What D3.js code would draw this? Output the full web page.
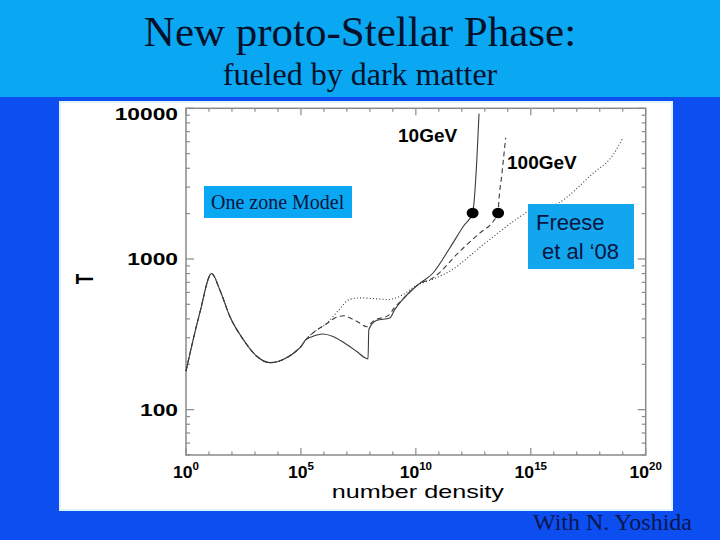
<!DOCTYPE html>
<html><head><meta charset="utf-8">
<script src="https://cdn.jsdelivr.net/npm/d3@7"></script>
<style>body{margin:0;background:#fff;} svg{display:block;}</style>
</head><body>
<svg id="c" width="720" height="540"></svg>
<script>
// ---------------- data ----------------
const titleText = "New proto-Stellar Phase:";
const subtitleText = "fueled by dark matter";
const creditText = "With N. Yoshida";

// shared part of all three tracks (number density, temperature)
const commonDensity = [1, 4, 13, 30, 81, 310, 1.2e3, 4.5e3, 2.4e4, 6.3e4, 1e5, 1.6e5];
const commonT       = [180, 440, 800, 620, 415, 292, 226, 205, 221, 245, 262, 290];

// 10 GeV (solid)
const solidDensity = [3e5, 5e5, 9e5, 2.5e6, 7e6, 2.6e7, 6.8e7, 8.3e7, 9.0e7, 1.9e8, 7.4e8, 1.2e9, 2.7e9, 1.26e10, 5.6e10, 3e11, 1.15e12, 2.95e12, 4.5e12, 5.6e12];
const solidT       = [305, 313, 318, 306, 280, 244, 219, 217, 340, 390, 406, 461, 540, 676, 807, 1182, 1644, 2018, 4550, 9200];

// shared by 100 GeV and no-DM tracks
const sharedDensity = [4e5, 1.3e6];
const sharedT       = [330, 372];

// 100 GeV (dashed)
const dashedDensity = [3e6, 7e6, 2e7, 4e7, 7.2e7, 1.4e8, 7.4e8, 1e9, 2.7e9, 1.26e10, 5.6e10, 8.1e11, 6e12, 2.3e13, 3.8e13, 4e13, 5.5e13, 8.1e13];
const dashedT       = [405, 420, 395, 372, 355, 387, 428, 461, 540, 676, 749, 1123, 1486, 1774, 2018, 2300, 3630, 6380];

// no dark matter (dotted)
const dottedDensity = [4e6, 1.35e7, 4e7, 1.6e8, 6.3e8, 2e9, 1.26e10, 5.6e10, 3e11, 8.5e12, 2.8e14, 7.6e14, 1.3e16, 5.1e17, 3.8e18, 1e19];
const dottedT       = [450, 540, 552, 545, 538, 565, 676, 735, 830, 1244, 1870, 2070, 2310, 3700, 4910, 6320];

// filled dots where dark matter takes over
const markerDensity = [2.95e12, 3.8e13];
const markerT       = [2018, 2018];

const xMajorTicks = [1, 1e5, 1e10, 1e15, 1e20];
const xTickExponents = ["0", "5", "10", "15", "20"];
const yMajorTicks = [100, 1000, 10000];
const yTickLabels = ["100", "1000", "10000"];

// ---------------- drawing ----------------
const svg = d3.select("#c");
const zip = (a, b) => a.map((v, i) => ({n: v, t: b[i]}));
const common = zip(commonDensity, commonT);
const shared = zip(sharedDensity, sharedT);
const series = [
  {pts: common.concat(zip(solidDensity, solidT)), dash: null},
  {pts: common.concat(shared, zip(dashedDensity, dashedT)), dash: "5,3.5"},
  {pts: common.concat(shared, zip(dottedDensity, dottedT)), dash: "1,2.2"}
];

// background bands
svg.append("rect").attr("x",0).attr("y",0).attr("width",720).attr("height",540).attr("fill","#0c4ef0");
svg.append("rect").attr("x",0).attr("y",0).attr("width",720).attr("height",97).attr("fill","#0aa8f2");
// white panel
svg.append("rect").attr("x",60).attr("y",102).attr("width",612).attr("height",408)
  .attr("fill","#ffffff").attr("stroke","#dff3fc").attr("stroke-width",2);

// titles
svg.append("text").attr("x",360).attr("y",46).attr("text-anchor","middle")
  .attr("font-family","'Liberation Serif', 'Times New Roman', serif").attr("font-size",43)
  .attr("fill","#05102a").text(titleText);
svg.append("text").attr("x",360).attr("y",85).attr("text-anchor","middle")
  .attr("font-family","'Liberation Serif', 'Times New Roman', serif").attr("font-size",32)
  .attr("fill","#05102a").text(subtitleText);
svg.append("text").attr("x",692).attr("y",530).attr("text-anchor","end")
  .attr("font-family","'Liberation Serif', 'Times New Roman', serif").attr("font-size",24)
  .attr("fill","#0a1650").text(creditText);

// scales
const L = 186, R = 645.7, T0 = 108.3, B = 455;
const x = d3.scaleLog().domain([1, 1e20]).range([L, R]);
const y = d3.scaleLog().domain([50, 10000]).range([B, T0]);

const axisColor = "#8a8a8a";
const g = svg.append("g");

// x ticks (bottom and top)
const xMinor = d3.range(1, 20).map(e => Math.pow(10, e)).filter(v => !xMajorTicks.includes(v));
function xTick(v, len) {
  g.append("line").attr("x1", x(v)).attr("x2", x(v)).attr("y1", B).attr("y2", B - len)
    .attr("stroke", axisColor).attr("stroke-width", 1.2);
  g.append("line").attr("x1", x(v)).attr("x2", x(v)).attr("y1", T0).attr("y2", T0 + len)
    .attr("stroke", axisColor).attr("stroke-width", 1.2);
}
xMinor.forEach(v => xTick(v, 3.5));
xMajorTicks.forEach(v => xTick(v, 7));

// y ticks (left and right)
const yAll = y.ticks(20).filter(v => v >= 50 && v <= 10000);
function yTick(v, len) {
  g.append("line").attr("x1", L).attr("x2", L + len).attr("y1", y(v)).attr("y2", y(v))
    .attr("stroke", axisColor).attr("stroke-width", 1.2);
  g.append("line").attr("x1", R).attr("x2", R - len).attr("y1", y(v)).attr("y2", y(v))
    .attr("stroke", axisColor).attr("stroke-width", 1.2);
}
yAll.filter(v => !yMajorTicks.includes(v)).forEach(v => yTick(v, 4));
yMajorTicks.forEach(v => yTick(v, 8));

// frame
g.append("rect").attr("x", L).attr("y", T0).attr("width", R - L).attr("height", B - T0)
  .attr("fill", "none").attr("stroke", axisColor).attr("stroke-width", 1.5);

// y tick labels
yMajorTicks.forEach((v, i) => {
  const ty = Math.max(y(v), 114.5);
  svg.append("text").attr("transform", `translate(178,${ty}) scale(1.38,1)`)
    .attr("text-anchor", "end").attr("dy", "0.36em")
    .attr("font-family", "'Liberation Sans', Arial, sans-serif").attr("font-weight", "bold")
    .attr("font-size", 16.5).attr("fill", "#000").text(yTickLabels[i]);
});

// x tick labels with superscripts
xMajorTicks.forEach((v, i) => {
  const t = svg.append("text").attr("transform", `translate(${x(v)},478) scale(1.1,1)`)
    .attr("text-anchor", "middle")
    .attr("font-family", "'Liberation Sans', Arial, sans-serif").attr("font-weight", "bold")
    .attr("font-size", 16).attr("fill", "#000");
  t.append("tspan").text("10");
  t.append("tspan").attr("dy", -8).attr("font-size", 10.5).text(xTickExponents[i]);
});

// axis titles
svg.append("text").attr("transform", `translate(${(L + R) / 2 + 2},498) scale(1.4,1)`)
  .attr("text-anchor", "middle").attr("font-family", "'Liberation Sans', Arial, sans-serif")
  .attr("font-size", 18).attr("fill", "#000").text("number density");
svg.append("text").attr("transform", "translate(93,279) rotate(-90) scale(1,1.38)")
  .attr("text-anchor", "middle").attr("font-family", "'Liberation Sans', Arial, sans-serif")
  .attr("font-weight", "bold").attr("font-size", 17).attr("fill", "#000").text("T");

// curves
const line = d3.line().x(d => x(d.n)).y(d => y(d.t)).curve(d3.curveMonotoneX);
series.forEach(s => {
  g.append("path").attr("d", line(s.pts)).attr("fill", "none")
    .attr("stroke", "#3a3a3a").attr("stroke-width", 1.1)
    .attr("stroke-dasharray", s.dash);
});

// markers
markerDensity.forEach((v, i) => {
  g.append("ellipse").attr("cx", x(v)).attr("cy", y(markerT[i])).attr("rx", 6).attr("ry", 5.2)
    .attr("fill", "#000");
});

// curve labels
svg.append("text").attr("x", 398).attr("y", 141.5)
  .attr("font-family", "'Liberation Sans', Arial, sans-serif").attr("font-weight", "bold")
  .attr("font-size", 19).attr("fill", "#000").text("10GeV");
svg.append("text").attr("x", 507).attr("y", 169)
  .attr("font-family", "'Liberation Sans', Arial, sans-serif").attr("font-weight", "bold")
  .attr("font-size", 19).attr("fill", "#000").text("100GeV");

// annotation boxes
svg.append("rect").attr("x", 204).attr("y", 186).attr("width", 148).attr("height", 32).attr("fill", "#0aa8f2");
svg.append("text").attr("x", 211).attr("y", 208.5)
  .attr("font-family", "'Liberation Serif', 'Times New Roman', serif").attr("font-size", 20)
  .attr("fill", "#0a1440").text("One zone Model");

svg.append("rect").attr("x", 528).attr("y", 204).attr("width", 106).attr("height", 65).attr("fill", "#12a6ee");
svg.append("text").attr("x", 536).attr("y", 230)
  .attr("font-family", "'Liberation Sans', Arial, sans-serif").attr("font-size", 22)
  .attr("fill", "#0a1440").text("Freese");
svg.append("text").attr("x", 542).attr("y", 259)
  .attr("font-family", "'Liberation Sans', Arial, sans-serif").attr("font-size", 22)
  .attr("fill", "#0a1440").text("et al \u201808");
</script>
</body></html>
